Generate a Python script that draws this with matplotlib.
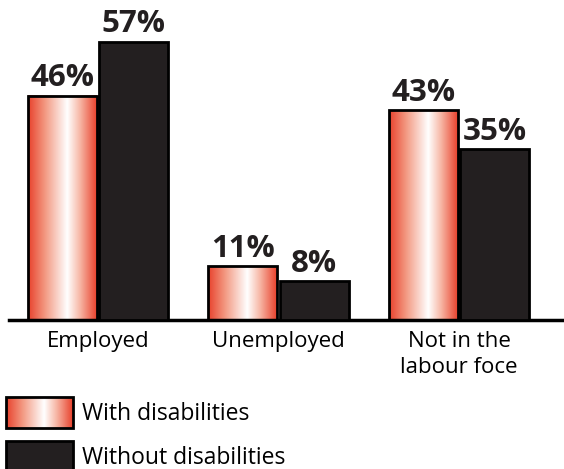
import matplotlib
matplotlib.use("Agg")
import matplotlib.pyplot as plt
import numpy as np
from matplotlib.colors import LinearSegmentedColormap
from matplotlib.patches import Rectangle

plt.rcParams['font.family'] = ['Open Sans', 'DejaVu Sans']

categories = ["Employed", "Unemployed", "Not in the\nlabour foce"]
with_disab = [46, 11, 43]
without_disab = [57, 8, 35]
series_names = ["With disabilities", "Without disabilities"]

RED = "#e8412c"
DARK = "#231f20"
grad = LinearSegmentedColormap.from_list(
    "redshine", [(0.0, RED), (0.25, "#f39a83"), (0.57, "#ffffff"), (0.75, "#f7b9a8"), (1.0, RED)])
ramp = np.linspace(0, 1, 256).reshape(1, -1)

W, H = 564, 469
fig = plt.figure(figsize=(W / 100, H / 100), dpi=100)

# main bar axes, positioned in pixel terms
base_y = 320
left_px, right_px = 9, 564
ax = fig.add_axes([left_px / W, (H - base_y) / H, (right_px - left_px) / W, base_y / H])
ax.set_xlim((left_px - 98) / 180.5, (right_px - 98) / 180.5)
ax.set_ylim(0, base_y / 4.88)

x = np.arange(len(categories))
bw = 0.382
off = 0.199

bars_w = ax.bar(x - off, with_disab, bw, facecolor="none", edgecolor="black", linewidth=2, zorder=3)
bars_o = ax.bar(x + off, without_disab, bw, facecolor=DARK, edgecolor="black", linewidth=2, zorder=3)

for b in bars_w:
    x0, w, h = b.get_x(), b.get_width(), b.get_height()
    ax.imshow(ramp, cmap=grad, aspect="auto", extent=[x0, x0 + w, 0, h], zorder=2)

for b, v in list(zip(bars_w, with_disab)) + list(zip(bars_o, without_disab)):
    ax.text(b.get_x() + b.get_width() / 2, v + 0.5, f"{v}%", ha="center", va="bottom",
            fontsize=22.5, fontweight="bold", color=DARK)

ax.set_xlim((left_px - 98) / 180.5, (right_px - 98) / 180.5)
ax.set_ylim(0, base_y / 4.88)
for s in ["top", "right", "left"]:
    ax.spines[s].set_visible(False)
ax.spines["bottom"].set_linewidth(2.5)
ax.spines["bottom"].set_color("black")
ax.set_yticks([])
ax.set_xticks(x)
ax.set_xticklabels(categories, fontsize=16, color="black", linespacing=1.3)
ax.tick_params(axis="x", length=0, pad=8)

# legend drawn in pixel space below the chart
lg = fig.add_axes([0, 0, 1, 1], zorder=5)
lg.set_xlim(0, W)
lg.set_ylim(H, 0)
lg.axis("off")
lg.patch.set_alpha(0)
sw = [(6, 397), (6, 441)]
lg.imshow(ramp, cmap=grad, aspect="auto", extent=[sw[0][0], sw[0][0] + 67, sw[0][1] + 31, sw[0][1]])
lg.add_patch(Rectangle(sw[0], 67, 31, facecolor="none", edgecolor="black", linewidth=2))
lg.add_patch(Rectangle(sw[1], 67, 31, facecolor=DARK, edgecolor="black", linewidth=2))
for (sx, sy), name in zip(sw, series_names):
    lg.text(82, sy + 17, name, ha="left", va="center", fontsize=16.5, color="black")
lg.set_xlim(0, W)
lg.set_ylim(H, 0)

fig.savefig("out.png", dpi=100)
